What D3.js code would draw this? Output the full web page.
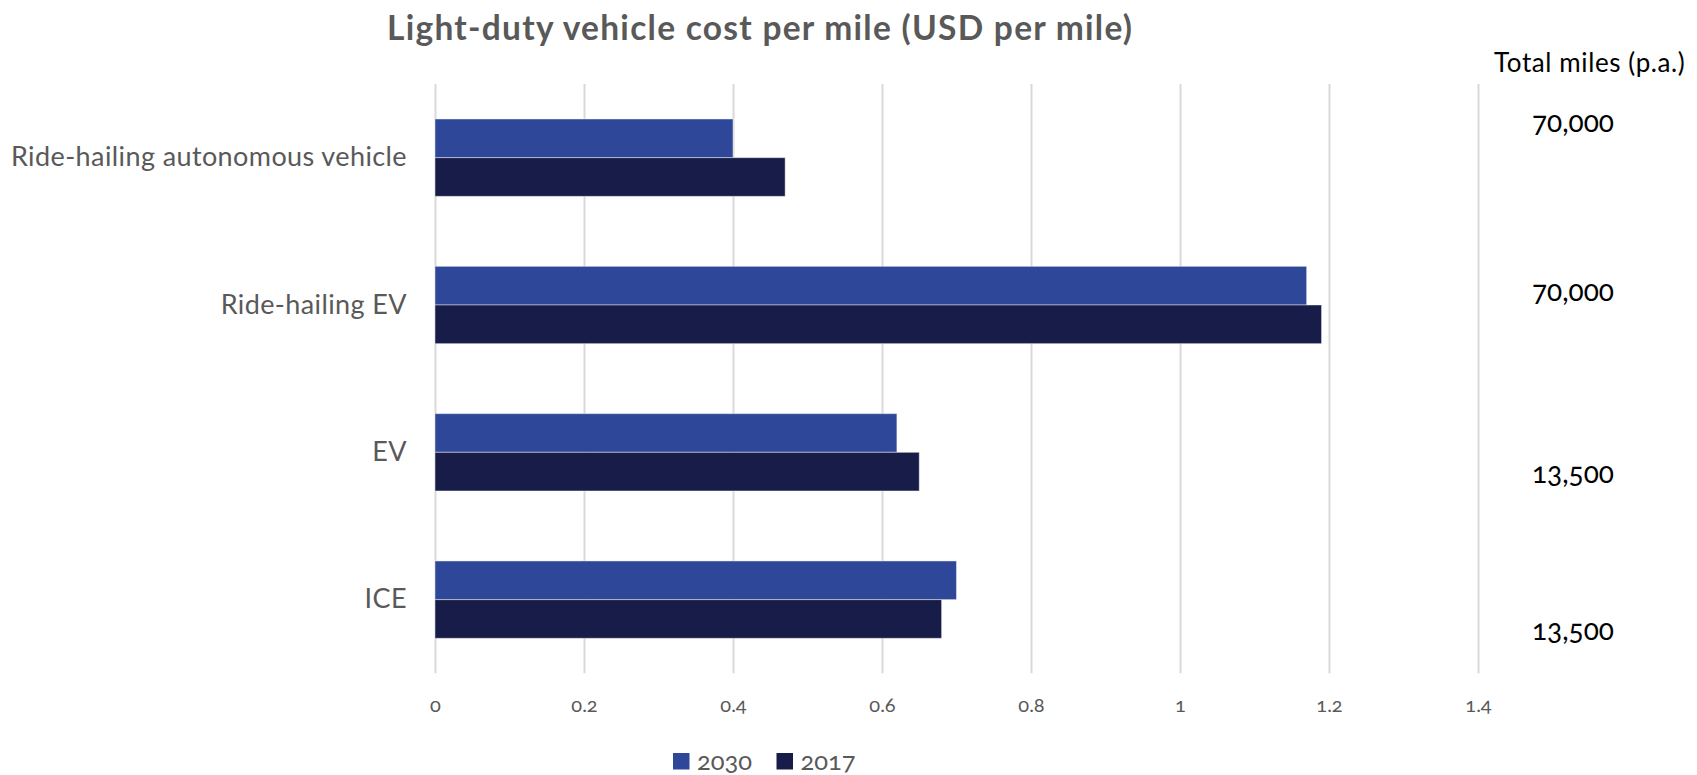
<!DOCTYPE html>
<html>
<head>
<meta charset="utf-8">
<script src="https://cdn.jsdelivr.net/npm/d3@7/dist/d3.min.js"></script>
<style>
  html, body { margin: 0; padding: 0; background: #ffffff; }
  svg { display: block; font-family: Lato, "Open Sans", sans-serif; }
  .onum { font-variant-numeric: oldstyle-nums; font-feature-settings: "onum" 1; }
</style>
</head>
<body>
<svg id="chart" width="1697" height="775"></svg>
<script>
// Light-duty vehicle cost per mile, by vehicle type and year
const categories = ["Ride-hailing autonomous vehicle", "Ride-hailing EV", "EV", "ICE"];
const seriesNames = ["2030", "2017"];
const values2030 = [0.40, 1.17, 0.62, 0.70];
const values2017 = [0.47, 1.19, 0.65, 0.68];
const xTickValues = [0, 0.2, 0.4, 0.6, 0.8, 1, 1.2, 1.4];
const xTickLabels = ["0", "0.2", "0.4", "0.6", "0.8", "1", "1.2", "1.4"];
const totalMiles = ["70,000", "70,000", "13,500", "13,500"];
const titleText = "Light-duty vehicle cost per mile (USD per mile)";
const milesHeader = "Total miles (p.a.)";

const colors = { "2030": "#2E4799", "2017": "#171C48" };
const gray = "#595959";

const svg = d3.select("#chart");

// plot frame
const plot = { left: 435, right: 1478, top: 84, bottom: 673.3 };

const x = d3.scaleLinear().domain([0, 1.4]).range([plot.left, plot.right]);
const y = d3.scaleBand().domain(categories).range([plot.top, plot.bottom])
  .paddingInner(0.475).paddingOuter(0.2375);
const ySub = d3.scaleBand().domain(seriesNames).range([0, y.bandwidth()]);

// title
svg.append("text")
  .attr("x", 387).attr("y", 40)
  .attr("font-size", 33.5).attr("font-weight", 700)
  .attr("fill", gray)
  .attr("textLength", 745)
  .attr("lengthAdjust", "spacing")
  .text(titleText);

// vertical gridlines + tick labels
const xAxis = d3.axisBottom(x)
  .tickValues(xTickValues)
  .tickFormat((d, i) => xTickLabels[i])
  .tickSize(-(plot.bottom - plot.top))
  .tickSizeOuter(0);

const gx = svg.append("g")
  .attr("transform", `translate(0,${plot.bottom})`)
  .call(xAxis);
gx.select(".domain").remove();
gx.selectAll(".tick line").attr("stroke", "#d9d9d9").attr("stroke-width", 2);
gx.selectAll(".tick text")
  .attr("class", "onum")
  .attr("y", 39).attr("dy", 0)
  .attr("font-size", 20)
  .attr("font-family", "Lato, sans-serif")
  .attr("fill", gray);

// category labels
const yAxis = d3.axisLeft(y).tickSize(0).tickPadding(0);
const gy = svg.append("g")
  .attr("transform", "translate(407,0)")
  .call(yAxis);
gy.select(".domain").remove();
gy.selectAll(".tick text")
  .attr("font-size", 27)
  .attr("letter-spacing", 0.4)
  .attr("font-family", "Lato, sans-serif")
  .attr("dy", "0.32em")
  .attr("fill", gray);

// bars
const rows = categories.map((c, i) => ({
  category: c,
  values: [
    { series: "2030", value: values2030[i] },
    { series: "2017", value: values2017[i] }
  ]
}));

const groups = svg.append("g").selectAll("g")
  .data(rows)
  .join("g")
  .attr("transform", d => `translate(0,${y(d.category)})`);

groups.selectAll("rect")
  .data(d => d.values)
  .join("rect")
  .attr("x", x(0))
  .attr("y", d => ySub(d.series))
  .attr("width", d => x(d.value) - x(0))
  .attr("height", ySub.bandwidth())
  .attr("fill", d => colors[d.series])
  .attr("stroke", "#ffffff")
  .attr("stroke-opacity", 0.45)
  .attr("stroke-width", 1);

// total miles annotations at the right
svg.append("text")
  .attr("x", 1494).attr("y", 71.7)
  .attr("font-size", 26)
  .attr("letter-spacing", 0.6)
  .attr("fill", "#000000")
  .text(milesHeader);

const milesOffsets = [-26, -4, 31, 40.5];
svg.append("g").selectAll("text")
  .data(totalMiles)
  .join("text")
  .attr("class", "onum")
  .attr("x", 1532)
  .attr("y", (d, i) => y(categories[i]) + y.bandwidth() / 2 + milesOffsets[i])
  .attr("font-size", 28)
  .attr("fill", "#000000")
  .text(d => d);

// legend
const legend = svg.append("g").attr("transform", "translate(673,753)");
const items = legend.selectAll("g")
  .data(seriesNames)
  .join("g")
  .attr("transform", (d, i) => `translate(${i * 103.5},0)`);
items.append("rect")
  .attr("width", 16.5).attr("height", 16.5)
  .attr("fill", d => colors[d]);
items.append("text")
  .attr("class", "onum")
  .attr("x", 24).attr("y", 17)
  .attr("font-size", 25.5)
  .attr("fill", gray)
  .text(d => d);
</script>
</body>
</html>
